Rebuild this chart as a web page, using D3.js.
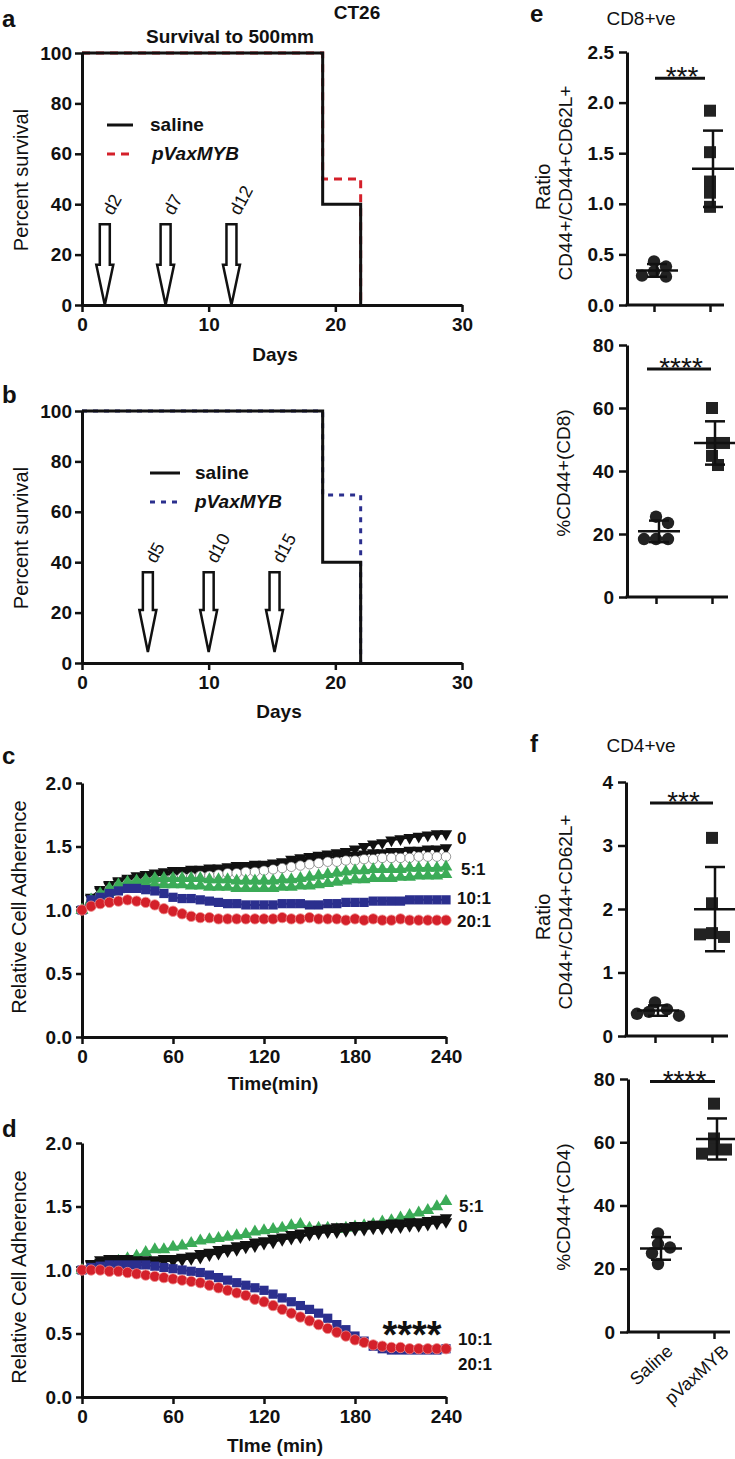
<!DOCTYPE html>
<html><head><meta charset="utf-8">
<script src="https://cdn.jsdelivr.net/npm/d3@7"></script>
<style>
body{margin:0;background:#fff}
text{font-family:"Liberation Sans",Arial,sans-serif;fill:#111}
</style>
</head><body><script>
// ================= DATA =================
// Panels a, b : Kaplan-Meier survival (step points: day -> % survival)
const survivalDays = [0, 19, 22];
const survivalSaline = [100, 40, 0];
const survivalMYB_a = [100, 50, 0];
const survivalMYB_b = [100, 66.7, 0];
const doseDaysA = [1.8, 6.6, 11.8];
const doseLabelsA = ["d2", "d7", "d12"];
const doseDaysB = [5.2, 10.0, 15.2];
const doseLabelsB = ["d5", "d10", "d15"];
const survXTicks = [0, 10, 20, 30];
const survYTicks = [0, 20, 40, 60, 80, 100];

// Panels c, d : relative cell adherence over time (min)
const timeMin = [0,6,12,18,24,30,36,42,48,54,60,66,72,78,84,90,96,102,108,114,120,126,132,138,144,150,156,162,168,174,180,186,192,198,204,210,216,222,228,234,240];
const c_ratio0_a = [1.00,1.10,1.16,1.20,1.23,1.25,1.27,1.28,1.29,1.30,1.31,1.31,1.32,1.32,1.33,1.33,1.34,1.35,1.35,1.36,1.36,1.37,1.38,1.40,1.41,1.42,1.43,1.44,1.45,1.46,1.48,1.50,1.52,1.53,1.55,1.56,1.57,1.58,1.59,1.60,1.60];
const c_ratio0_b = [1.00,1.09,1.15,1.19,1.22,1.24,1.25,1.26,1.27,1.28,1.28,1.29,1.29,1.30,1.30,1.31,1.31,1.32,1.33,1.33,1.34,1.35,1.36,1.37,1.38,1.39,1.40,1.41,1.42,1.43,1.43,1.44,1.45,1.45,1.46,1.46,1.47,1.47,1.48,1.48,1.49];
const c_open = [1.00,1.07,1.12,1.16,1.19,1.21,1.22,1.23,1.24,1.24,1.25,1.26,1.26,1.27,1.27,1.28,1.29,1.29,1.30,1.30,1.31,1.32,1.33,1.34,1.35,1.36,1.37,1.38,1.38,1.39,1.39,1.40,1.40,1.41,1.41,1.41,1.41,1.42,1.42,1.42,1.42];
const c_ratio5_a = [1.00,1.08,1.13,1.17,1.20,1.22,1.23,1.24,1.25,1.25,1.25,1.25,1.25,1.25,1.24,1.24,1.24,1.23,1.23,1.23,1.23,1.23,1.24,1.24,1.25,1.26,1.27,1.28,1.29,1.30,1.31,1.31,1.32,1.32,1.32,1.32,1.33,1.33,1.33,1.33,1.34];
const c_ratio5_b = [1.00,1.07,1.11,1.14,1.16,1.18,1.19,1.20,1.20,1.20,1.20,1.20,1.19,1.19,1.18,1.18,1.18,1.17,1.17,1.17,1.17,1.17,1.18,1.18,1.19,1.19,1.20,1.21,1.22,1.23,1.24,1.24,1.25,1.25,1.25,1.26,1.26,1.27,1.27,1.27,1.28];
const c_ratio10 = [1.00,1.08,1.10,1.13,1.15,1.17,1.17,1.16,1.15,1.13,1.10,1.09,1.09,1.08,1.07,1.06,1.05,1.05,1.04,1.04,1.04,1.04,1.05,1.05,1.05,1.04,1.04,1.05,1.05,1.06,1.06,1.06,1.07,1.07,1.07,1.07,1.08,1.08,1.08,1.08,1.08];
const c_ratio20 = [1.00,1.03,1.05,1.06,1.07,1.08,1.07,1.06,1.04,1.01,0.99,0.97,0.95,0.94,0.94,0.93,0.93,0.93,0.93,0.93,0.93,0.93,0.94,0.93,0.93,0.94,0.93,0.93,0.93,0.92,0.93,0.92,0.93,0.92,0.92,0.93,0.92,0.92,0.92,0.92,0.92];
const d_ratio0_a = [1.00,1.05,1.08,1.09,1.09,1.09,1.08,1.08,1.08,1.09,1.09,1.10,1.11,1.13,1.14,1.16,1.17,1.19,1.20,1.22,1.23,1.25,1.26,1.28,1.29,1.31,1.32,1.33,1.34,1.34,1.35,1.35,1.36,1.36,1.37,1.37,1.38,1.38,1.39,1.40,1.41];
const d_ratio0_b = [1.00,1.04,1.06,1.07,1.07,1.07,1.06,1.06,1.06,1.07,1.07,1.08,1.09,1.10,1.12,1.13,1.15,1.16,1.18,1.19,1.21,1.22,1.24,1.25,1.26,1.28,1.29,1.30,1.30,1.31,1.32,1.32,1.33,1.33,1.34,1.34,1.35,1.35,1.36,1.37,1.38];
const d_ratio5 = [1.00,1.02,1.04,1.06,1.07,1.09,1.11,1.14,1.16,1.16,1.18,1.19,1.21,1.23,1.24,1.25,1.26,1.27,1.28,1.30,1.31,1.32,1.33,1.35,1.36,1.33,1.33,1.33,1.32,1.33,1.34,1.35,1.36,1.38,1.39,1.41,1.43,1.45,1.47,1.50,1.54];
const d_ratio10 = [1.00,1.02,1.03,1.04,1.04,1.04,1.04,1.04,1.03,1.02,1.01,1.00,0.99,0.98,0.96,0.94,0.92,0.90,0.88,0.86,0.84,0.81,0.78,0.75,0.72,0.69,0.66,0.62,0.57,0.53,0.48,0.44,0.40,0.38,0.37,0.37,0.37,0.37,0.37,0.37,0.38];
const d_ratio20 = [1.00,1.00,1.00,0.99,0.99,0.98,0.97,0.96,0.95,0.94,0.93,0.92,0.91,0.90,0.88,0.86,0.84,0.82,0.80,0.77,0.75,0.72,0.69,0.66,0.63,0.60,0.57,0.54,0.51,0.48,0.45,0.43,0.41,0.40,0.39,0.39,0.38,0.38,0.38,0.38,0.38];
const timeTicks = [0, 60, 120, 180, 240];
const adhTicks = [0, 0.5, 1.0, 1.5, 2.0];

// Panels e, f : scatter dot plots
const groups = ["Saline", "pVaxMYB"];
const e1Saline = [0.43, 0.38, 0.33, 0.29, 0.28];
const e1MYB = [1.92, 1.51, 1.22, 1.11, 0.97];
const e2Saline = [25.5, 23.5, 18.4, 18.4, 18.4];
const e2MYB = [60.0, 48.9, 48.9, 44.8, 41.9];
const f1Saline = [0.53, 0.42, 0.38, 0.35, 0.32];
const f1MYB = [3.12, 2.09, 1.62, 1.56, 1.60];
const f2Saline = [31.2, 27.8, 26.7, 24.9, 21.5];
const f2MYB = [72.2, 61.2, 57.7, 57.7, 56.4];
const e1Ticks = [0, 0.5, 1.0, 1.5, 2.0, 2.5];
const pctTicks = [0, 20, 40, 60, 80];
const f1Ticks = [0, 1, 2, 3, 4];

// ================= DRAWING =================
const svg = d3.select("body").append("svg").attr("width", 735).attr("height", 1459);
const BLACK = "#111", RED = "#d4202a", BLUE = "#2b2f8e", GREEN = "#3bab57";
const FONT = '"Liberation Sans",Arial,sans-serif';

function styleAxis(g) {
  g.select(".domain").attr("stroke", BLACK).attr("stroke-width", 3);
  g.selectAll(".tick line").attr("stroke", BLACK).attr("stroke-width", 2.5);
  g.selectAll(".tick text").attr("font-size", 19).attr("font-weight", "bold").attr("fill", BLACK).attr("font-family", FONT);
}
function txt(x, y, s, o = {}) {
  const t = svg.append("text").attr("x", x).attr("y", y).text(s)
    .attr("font-size", o.size || 19).attr("font-weight", o.weight || "normal")
    .attr("text-anchor", o.anchor || "start");
  if (o.italic) t.attr("font-style", "italic");
  if (o.rotate !== undefined) t.attr("transform", `rotate(${o.rotate},${x},${y})`);
  return t;
}

// ---------- survival panels ----------
function survivalPanel(yTop, yBottom, myb, mybColor, dash, doseDays, doseLabels, arrowTop, arrowHead, arrowTip) {
  const x = d3.scaleLinear().domain([0, 30]).range([82, 462]);
  const y = d3.scaleLinear().domain([0, 100]).range([yBottom, yTop]);
  const g = svg.append("g");
  const line = d3.line().x(d => x(d[0])).y(d => y(d[1])).curve(d3.curveStepAfter);
  g.append("path").attr("d", line(survivalDays.map((d, i) => [d, myb[i]])))
    .attr("fill", "none").attr("stroke", mybColor).attr("stroke-width", 3).attr("stroke-dasharray", dash);
  g.append("path").attr("d", line(survivalDays.map((d, i) => [d, survivalSaline[i]])))
    .attr("fill", "none").attr("stroke", BLACK).attr("stroke-width", 3);
  doseDays.forEach((d, i) => {
    const cx = x(d), yt = y(arrowTop), yh = y(arrowHead), ytip = y(arrowTip);
    const sw = 5, hw = 8.5;
    g.append("path").attr("d", `M${cx - sw},${yt}H${cx + sw}V${yh}H${cx + hw}L${cx},${ytip}L${cx - hw},${yh}H${cx - sw}Z`)
      .attr("fill", "#fff").attr("stroke", BLACK).attr("stroke-width", 2.5).attr("stroke-linejoin", "miter");
    txt(cx + 8, yt - 8, doseLabels[i], { size: 18, rotate: -62 });
  });
  const gx = g.append("g").attr("transform", `translate(0,${yBottom})`)
    .call(d3.axisBottom(x).tickValues(survXTicks).tickSize(7).tickSizeOuter(0).tickPadding(6));
  styleAxis(gx);
  const gy = g.append("g").attr("transform", `translate(82,0)`)
    .call(d3.axisLeft(y).tickValues(survYTicks).tickSize(7).tickSizeOuter(0).tickPadding(3));
  styleAxis(gy);
}
survivalPanel(53, 305, survivalMYB_a, RED, "8,6", doseDaysA, doseLabelsA, 32, 16, 0);
survivalPanel(411, 663, survivalMYB_b, BLUE, "5,6", doseDaysB, doseLabelsB, 36, 21, 4.4);

txt(2, 27, "a", { size: 24, weight: "bold" });
txt(357, 19, "CT26", { size: 19, weight: "bold", anchor: "middle" });
txt(230, 43, "Survival to 500mm", { size: 19, weight: "bold", anchor: "middle" });
txt(28, 180, "Percent survival", { size: 20, anchor: "middle", rotate: -90 });
txt(275, 361, "Days", { size: 19, weight: "bold", anchor: "middle" });
svg.append("line").attr("x1", 107).attr("x2", 133).attr("y1", 125).attr("y2", 125).attr("stroke", BLACK).attr("stroke-width", 3);
svg.append("line").attr("x1", 107).attr("x2", 133).attr("y1", 154).attr("y2", 154).attr("stroke", RED).attr("stroke-width", 3).attr("stroke-dasharray", "8,6");
txt(150, 131, "saline", { weight: "bold" });
txt(152, 160, "pVaxMYB", { weight: "bold", italic: true });

txt(2, 403, "b", { size: 24, weight: "bold" });
txt(28, 538, "Percent survival", { size: 20, anchor: "middle", rotate: -90 });
txt(279, 718, "Days", { size: 19, weight: "bold", anchor: "middle" });
svg.append("line").attr("x1", 150).attr("x2", 180).attr("y1", 473).attr("y2", 473).attr("stroke", BLACK).attr("stroke-width", 3);
svg.append("line").attr("x1", 150).attr("x2", 180).attr("y1", 502).attr("y2", 502).attr("stroke", BLUE).attr("stroke-width", 3).attr("stroke-dasharray", "5,6");
txt(195, 479, "saline", { weight: "bold" });
txt(195, 508, "pVaxMYB", { weight: "bold", italic: true });

// ---------- adherence panels ----------
function series(g, x, y, vals, o) {
  const pts = timeMin.map((t, i) => [x(t), y(vals[i])]);
  g.append("path").attr("d", d3.line()(pts)).attr("fill", "none").attr("stroke", o.line).attr("stroke-width", 2);
  const sym = d3.symbol(o.type, o.size)();
  g.append("g").selectAll("path").data(pts).join("path")
    .attr("transform", d => `translate(${d[0]},${d[1]})${o.down ? " rotate(180)" : ""}`)
    .attr("d", sym).attr("fill", o.fill).attr("stroke", o.stroke || "none").attr("stroke-width", o.sw || 0);
}
function adherencePanel(yTop, yBottom) {
  const x = d3.scaleLinear().domain([0, 240]).range([82, 446]);
  const y = d3.scaleLinear().domain([0, 2]).range([yBottom, yTop]);
  const g = svg.append("g");
  const gx = g.append("g").attr("transform", `translate(0,${yBottom})`)
    .call(d3.axisBottom(x).tickValues(timeTicks).tickSize(7).tickSizeOuter(0).tickPadding(6));
  styleAxis(gx);
  const gy = g.append("g").attr("transform", `translate(82,0)`)
    .call(d3.axisLeft(y).tickValues(adhTicks).tickFormat(d3.format(".1f")).tickSize(6).tickSizeOuter(0).tickPadding(4));
  styleAxis(gy);
  return { g, x, y };
}
const blackTri = { type: d3.symbolTriangle, size: 66, fill: BLACK, line: BLACK, down: true };
const openCirc = { type: d3.symbolCircle, size: 70, fill: "#fff", line: "#555", stroke: "#555", sw: 0.6 };
const greenTri = { type: d3.symbolTriangle, size: 70, fill: GREEN, line: GREEN };
const blueSq = { type: d3.symbolSquare, size: 85, fill: BLUE, line: BLUE };
const redCirc = { type: d3.symbolCircle, size: 85, fill: RED, line: RED, stroke: "#ee8c8c", sw: 0.8 };

const C = adherencePanel(783, 1037);
series(C.g, C.x, C.y, c_ratio0_a, blackTri);
series(C.g, C.x, C.y, c_ratio0_b, blackTri);
series(C.g, C.x, C.y, c_open, openCirc);
series(C.g, C.x, C.y, c_ratio5_a, greenTri);
series(C.g, C.x, C.y, c_ratio5_b, greenTri);
series(C.g, C.x, C.y, c_ratio10, blueSq);
series(C.g, C.x, C.y, c_ratio20, redCirc);
txt(2, 764, "c", { size: 24, weight: "bold" });
txt(26, 907, "Relative Cell Adherence", { size: 20, anchor: "middle", rotate: -90 });
txt(273, 1090, "Time(min)", { size: 19, weight: "bold", anchor: "middle" });
txt(457, 844, "0", { size: 17, weight: "bold" });
txt(461, 875, "5:1", { size: 17, weight: "bold" });
txt(457, 904, "10:1", { size: 17, weight: "bold" });
txt(457, 927, "20:1", { size: 17, weight: "bold" });

const D = adherencePanel(1143, 1397);
series(D.g, D.x, D.y, d_ratio5, greenTri);
series(D.g, D.x, D.y, d_ratio0_a, blackTri);
series(D.g, D.x, D.y, d_ratio0_b, blackTri);
series(D.g, D.x, D.y, d_ratio10, blueSq);
series(D.g, D.x, D.y, d_ratio20, redCirc);
txt(2, 1137, "d", { size: 24, weight: "bold" });
txt(26, 1277, "Relative Cell Adherence", { size: 20, anchor: "middle", rotate: -90 });
txt(275, 1452, "TIme (min)", { size: 19, weight: "bold", anchor: "middle" });
txt(459, 1212, "5:1", { size: 17, weight: "bold" });
txt(458, 1232, "0", { size: 17, weight: "bold" });
txt(458, 1345, "10:1", { size: 17, weight: "bold" });
txt(458, 1370, "20:1", { size: 17, weight: "bold" });
txt(412, 1348, "****", { size: 38, weight: "bold", anchor: "middle" });

// ---------- scatter panels ----------
function beeswarm(vals, y, diam) {
  const placed = [];
  return vals.map(v => {
    const py = y(v);
    let off = 0;
    for (let k = 0; k < 14; k++) {
      const cand = k === 0 ? 0 : (k % 2 ? 1 : -1) * Math.ceil(k / 2) * diam * 0.5;
      if (placed.every(p => Math.hypot(p[0] - cand, p[1] - py) >= diam * 0.8)) { off = cand; break; }
    }
    placed.push([off, py]);
    return [off, py];
  });
}
function scatterPanel(o) {
  const y = d3.scaleLinear().domain([0, o.max]).range([o.y0, o.y1]);
  const x = d3.scalePoint().domain(groups).range(o.cats);
  const g = svg.append("g");
  const gy = g.append("g").attr("transform", `translate(${o.ax},0)`)
    .call(d3.axisLeft(y).tickValues(o.ticks).tickFormat(o.fmt).tickSize(8).tickSizeOuter(0).tickPadding(5));
  styleAxis(gy);
  g.append("line").attr("x1", o.ax - 1.5).attr("x2", o.axEnd).attr("y1", o.y0).attr("y2", o.y0)
    .attr("stroke", BLACK).attr("stroke-width", 3);
  const gx = g.append("g").attr("transform", `translate(0,${o.y0})`)
    .call(d3.axisBottom(x).tickSize(7).tickSizeOuter(0).tickPadding(4).tickFormat(o.catLabels ? d => d : ""));
  gx.select(".domain").remove();
  gx.selectAll(".tick line").attr("stroke", BLACK).attr("stroke-width", 2.5);
  if (o.catLabels) {
    gx.selectAll(".tick text").attr("font-size", 18).attr("fill", BLACK).attr("text-anchor", "end")
      .attr("font-family", FONT).attr("dy", "0.5em").attr("transform", "translate(2,6) rotate(-42)");
  }
  [o.a, o.b].forEach((vals, gi) => {
    const cx = x(groups[gi]);
    const pos = beeswarm(vals, y, 12);
    if (gi === 0) {
      g.selectAll(null).data(pos).join("circle").attr("cx", d => cx + d[0]).attr("cy", d => d[1]).attr("r", 6.2).attr("fill", "#222");
    } else {
      g.selectAll(null).data(pos).join("rect").attr("x", d => cx + d[0] - 6).attr("y", d => d[1] - 6)
        .attr("width", 12).attr("height", 12).attr("fill", "#222");
    }
    const m = d3.mean(vals), sd = d3.deviation(vals);
    const mx = cx + 3;
    g.append("line").attr("x1", mx - 21).attr("x2", mx + 21).attr("y1", y(m)).attr("y2", y(m)).attr("stroke", BLACK).attr("stroke-width", 2.5);
    g.append("line").attr("x1", mx).attr("x2", mx).attr("y1", y(m - sd)).attr("y2", y(m + sd)).attr("stroke", BLACK).attr("stroke-width", 2.5);
    [m - sd, m + sd].forEach(v => g.append("line").attr("x1", mx - 10).attr("x2", mx + 10).attr("y1", y(v)).attr("y2", y(v)).attr("stroke", BLACK).attr("stroke-width", 2.5));
  });
  g.append("line").attr("x1", o.sig[0]).attr("x2", o.sig[1]).attr("y1", y(o.sigV)).attr("y2", y(o.sigV))
    .attr("stroke", BLACK).attr("stroke-width", 3);
  txt((o.sig[0] + o.sig[1]) / 2 + 2, y(o.sigV) + 8, o.stars, { size: 28, anchor: "middle" });
}
scatterPanel({ y0: 305, y1: 52, max: 2.5, ax: 627, axEnd: 724, cats: [654, 710], ticks: e1Ticks, fmt: d3.format(".1f"),
  a: e1Saline, b: e1MYB, sig: [655, 705], sigV: 2.24, stars: "***" });
scatterPanel({ y0: 597, y1: 345, max: 80, ax: 627, axEnd: 728, cats: [656, 712], ticks: pctTicks, fmt: d3.format("d"),
  a: e2Saline, b: e2MYB, sig: [647, 711], sigV: 72.4, stars: "****" });
scatterPanel({ y0: 1036, y1: 782, max: 4, ax: 626, axEnd: 728, cats: [655, 712], ticks: f1Ticks, fmt: d3.format("d"),
  a: f1Saline, b: f1MYB, sig: [650, 713], sigV: 3.67, stars: "***" });
scatterPanel({ y0: 1332, y1: 1079, max: 80, ax: 628, axEnd: 730, cats: [658, 714], ticks: pctTicks, fmt: d3.format("d"),
  a: f2Saline, b: f2MYB, sig: [650, 715], sigV: 79.2, stars: "****", catLabels: true });

txt(530, 22, "e", { size: 24, weight: "bold" });
txt(641, 25, "CD8+ve", { size: 19, anchor: "middle" });
txt(550, 187, "Ratio", { size: 20, anchor: "middle", rotate: -90 });
txt(572, 183, "CD44+/CD44+CD62L+", { size: 19, anchor: "middle", rotate: -90 });
txt(570, 473, "%CD44+(CD8)", { size: 19, anchor: "middle", rotate: -90 });

txt(530, 752, "f", { size: 24, weight: "bold" });
txt(641, 752, "CD4+ve", { size: 19, anchor: "middle" });
txt(550, 917, "Ratio", { size: 20, anchor: "middle", rotate: -90 });
txt(572, 912, "CD44+/CD44+CD62L+", { size: 19, anchor: "middle", rotate: -90 });
txt(570, 1207, "%CD44+(CD4)", { size: 19, anchor: "middle", rotate: -90 });
</script></body></html>
